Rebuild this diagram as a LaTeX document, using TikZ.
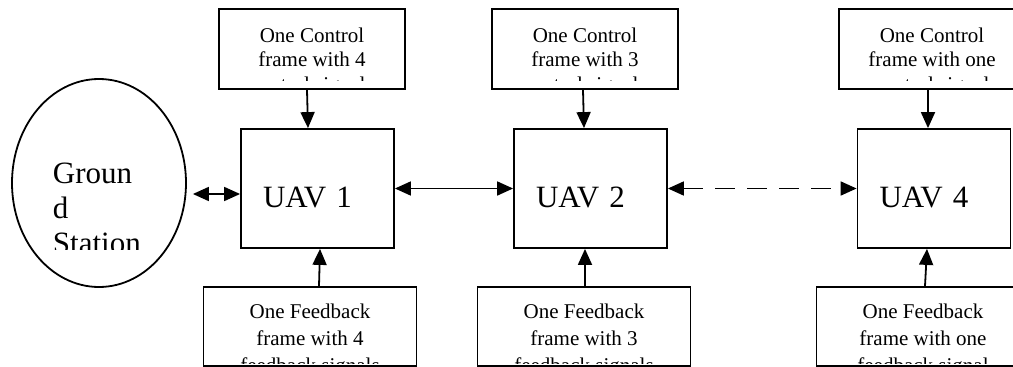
\documentclass[tikz,border=0pt]{standalone}
\usepackage{fontspec}
\setmainfont{Liberation Serif}
\usetikzlibrary{arrows.meta, shapes.geometric}

\begin{document}
\begin{tikzpicture}[
    x=1pt, y=-1pt,
    >={Triangle[length=16pt, width=14pt]},
    line width=1.8pt,
    bigtxt/.style={font=\fontsize{31}{35}\selectfont, rectangle, draw=none, minimum size=0pt, inner sep=0pt},
    smalltxt/.style={font=\fontsize{21}{#1}\selectfont, rectangle, draw=none, minimum size=0pt, inner sep=0pt, align=center},
    uav/.style={draw, bigtxt, draw, minimum width=153pt, minimum height=119pt,
        inner xsep=22pt, text width=109pt, align=left, text height=37pt, text depth=0pt},
    % text boxes: third line cut off as in the source
    ctlbox/.style={draw, minimum width=186pt, minimum height=80pt, inner sep=0pt,
        path picture={
            \clip (path picture bounding box.north west) rectangle ([yshift=9pt]path picture bounding box.south east);
            \node[smalltxt=24.5pt, anchor=north] at ([yshift=-17.7pt]path picture bounding box.north) {#1};}},
    fbbox/.style={draw, minimum width=213pt, minimum height=79pt, inner sep=0pt,
        path picture={
            \clip (path picture bounding box.north west) rectangle ([yshift=3pt]path picture bounding box.south east);
            \node[smalltxt=27pt, anchor=north] at ([yshift=-16.2pt]path picture bounding box.north) {#1};}},
    station/.style={ellipse, draw, minimum width=174pt, minimum height=208pt, inner sep=0pt,
        path picture={
            \clip (path picture bounding box.north west) rectangle ([yshift=-66pt]path picture bounding box.east);
            \node[bigtxt, anchor=north west, align=left] at ([xshift=-47pt, yshift=21pt]path picture bounding box.center) {#1};}},
]
\useasboundingbox (0,0) rectangle (1013,367);

% ground station and the UAV chain
\node[station={Groun\\d\\Station}] (gs) at (99,183) {};
\node[uav] (uav1) at (317.5,188.5) {UAV 1};
\node[uav] (uav2) at (590.5,188.5) {UAV 2};
\node[uav] (uav4) at (934,188.5) {UAV 4};

% control frames (top)
\node[ctlbox={One Control\\frame with 4\\control signals}] (ctl1) at (312,49) {};
\node[ctlbox={One Control\\frame with 3\\control signals}] (ctl2) at (585,49) {};
\node[ctlbox={One Control\\frame with one\\control signal}] (ctl3) at (932,49) {};

% feedback frames (bottom)
\node[fbbox={One Feedback\\frame with 4\\feedback signals}] (fb1) at (310,326.5) {};
\node[fbbox={One Feedback\\frame with 3\\feedback signals}] (fb2) at (584,326.5) {};
\node[fbbox={One Feedback\\frame with one\\feedback signal}] (fb3) at (923,326.5) {};

% links
\coordinate (gslink) at ([yshift=-5.5pt]uav1.west);
\draw[<->, shorten >=6pt] (gslink) -- (gslink -| gs.east);
\draw[<->] (uav1.east) -- (uav2.west);
\draw[<->, dash pattern=on 20pt off 12pt] (uav2.east) -- (uav4.west);

\draw[->] ([xshift=-5pt]ctl1.south) -- ([xshift=-9.5pt]uav1.north);
\draw[->] ([xshift=-2pt]ctl2.south) -- ([xshift=-6.5pt]uav2.north);
\draw[->] ([xshift=-4pt]ctl3.south) -- ([xshift=-6pt]uav4.north);
\draw[->] ([xshift=9pt]fb1.north) -- ([xshift=2.5pt]uav1.south);
\draw[->] ([xshift=1pt]fb2.north) -- ([xshift=-5.5pt]uav2.south);
\draw[->] ([xshift=2pt]fb3.north) -- ([xshift=-7pt]uav4.south);
\end{tikzpicture}
\end{document}
